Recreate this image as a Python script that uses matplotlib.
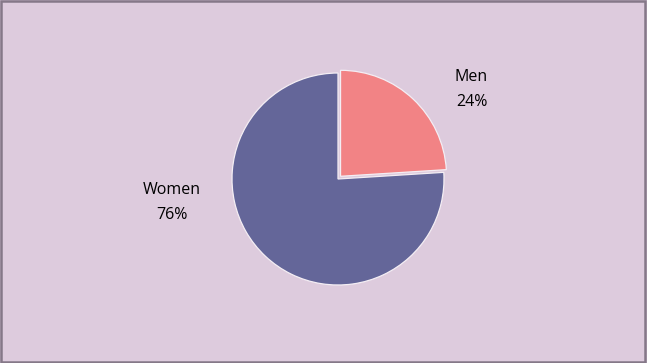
import matplotlib.pyplot as plt
from matplotlib.patches import Rectangle

labels = ["Men", "Women"]
shares = [24, 76]
colors = ["#F28385", "#646699"]

fig = plt.figure(figsize=(6.47, 3.63), dpi=100)
fig.patch.set_facecolor("#DDCBDD")

# pie centre ~ (338, 179) px, radius ~106 px
ax = fig.add_axes([(338 - 106) / 647, (363 - 179 - 106) / 363, 212 / 647, 212 / 363])
ax.set_facecolor("none")
wedges, _ = ax.pie(shares, colors=colors, startangle=90, counterclock=False,
                   explode=[0.035, 0], radius=1,
                   wedgeprops=dict(edgecolor="#F4EEF4", linewidth=0.9))
for w in wedges:
    w.set_clip_on(False)
ax.set_xlim(-1, 1)
ax.set_ylim(-1, 1)
ax.axis("off")

font = ["Open Sans", "DejaVu Sans"]
ax.text(1.26, 0.84, f"{labels[0]}\n{shares[0]}%", ha="center", va="center",
        fontsize=11.5, family=font, linespacing=1.75, color="#000000")
ax.text(-1.57, -0.22, f"{labels[1]}\n{shares[1]}%", ha="center", va="center",
        fontsize=11.5, family=font, linespacing=1.75, color="#000000")

fig.add_artist(Rectangle((0.002, 0.003), 0.995, 0.993, transform=fig.transFigure,
                         fill=False, edgecolor="#857888", linewidth=1.8))

fig.savefig("out.png", dpi=100, facecolor=fig.get_facecolor())
